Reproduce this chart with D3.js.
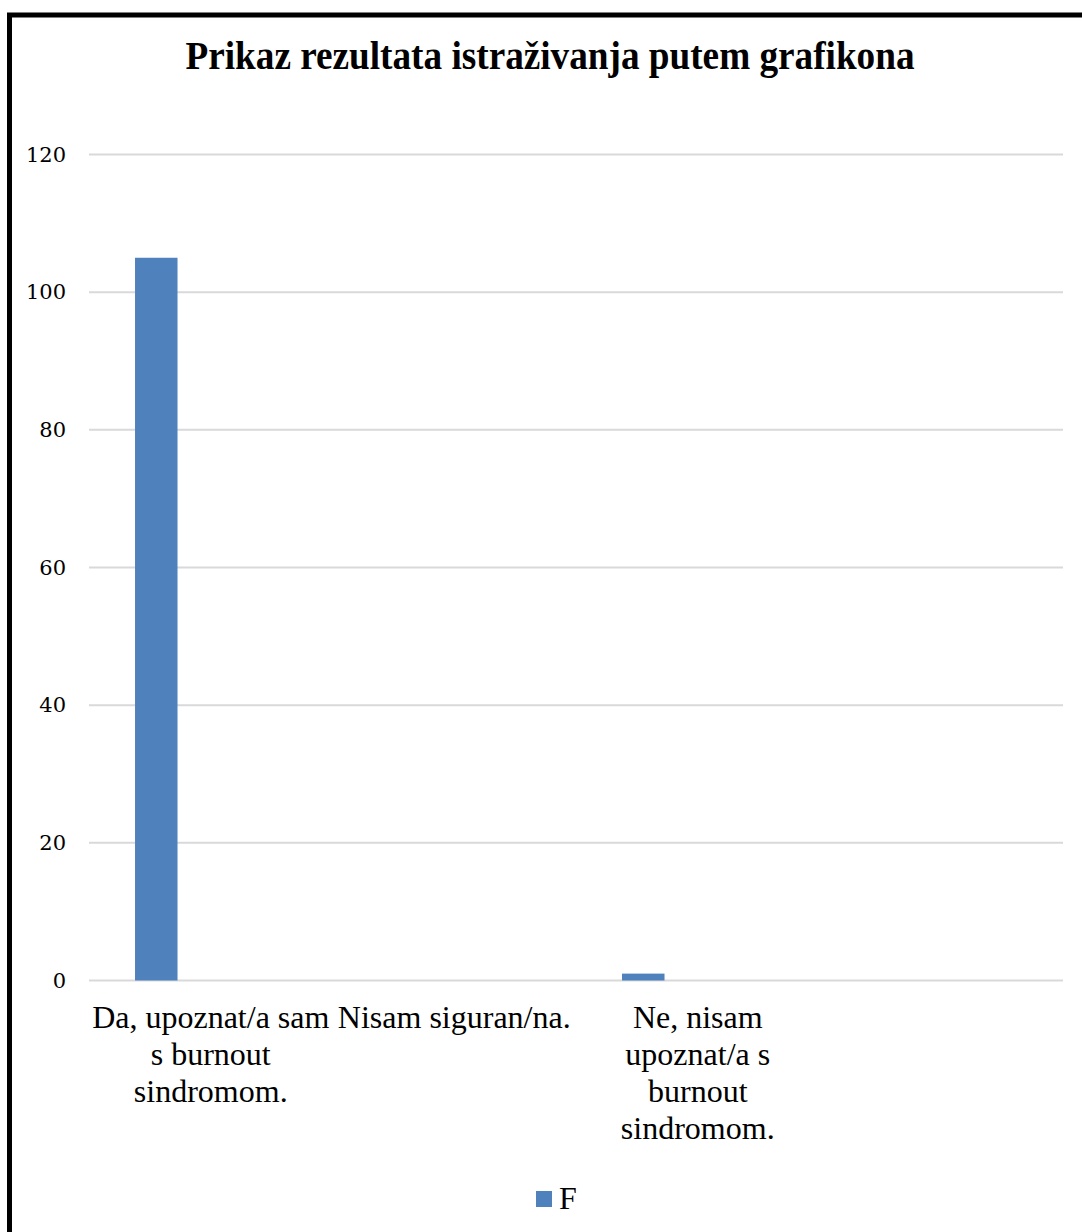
<!DOCTYPE html>
<html>
<head>
<meta charset="utf-8">
<script src="https://cdn.jsdelivr.net/npm/d3@7"></script>
<style>
  html, body { margin: 0; padding: 0; background: #fff; }
  svg { display: block; }
</style>
</head>
<body>
<div id="chart"></div>
<script>
const titleText = "Prikaz rezultata istraživanja putem grafikona";
const categories = ["c1", "c2", "c3", "c4"];
const categoryLabels = [
  ["Da, upoznat/a sam", "s burnout", "sindromom."],
  ["Nisam siguran/na."],
  ["Ne, nisam", "upoznat/a s", "burnout", "sindromom."],
  []
];
const seriesName = "F";
const seriesValues = [105, 0, 1, null];
const yTicks = [0, 20, 40, 60, 80, 100, 120];

const W = 1082, H = 1232;
const svg = d3.select("#chart").append("svg").attr("width", W).attr("height", H);

svg.append("rect").attr("x", 0).attr("y", 0).attr("width", W).attr("height", H).attr("fill", "#fff");
// outer border
svg.append("rect").attr("x", 9.5).attr("y", 15).attr("width", 1200).attr("height", 1400)
  .attr("fill", "none").attr("stroke", "#000").attr("stroke-width", 5);

// title
svg.append("text").attr("x", 550).attr("y", 69)
  .attr("text-anchor", "middle")
  .attr("font-family", "'Liberation Serif', 'Times New Roman', serif")
  .attr("font-weight", "bold").attr("font-size", 40)
  .attr("textLength", 729).attr("lengthAdjust", "spacingAndGlyphs")
  .text(titleText);

const x0 = d3.scaleBand().domain(categories).range([89, 1063]).padding(0);
const y = d3.scaleLinear().domain([0, 120]).range([980.5, 154.5]);

// gridlines
svg.append("g").selectAll("line").data(yTicks).join("line")
  .attr("x1", 89).attr("x2", 1063)
  .attr("y1", d => y(d)).attr("y2", d => y(d))
  .attr("stroke", "#d9d9d9").attr("stroke-width", 2);

// y axis labels
const yAxis = d3.axisLeft(y).tickValues(yTicks).tickSize(0).tickPadding(0);
const gy = svg.append("g").attr("transform", "translate(66,0)").call(yAxis);
gy.select(".domain").remove();
gy.selectAll("text")
  .attr("font-family", "'DejaVu Serif', serif")
  .attr("font-size", 21)
  .attr("fill", "#000");

// bars
const data = categories.map((c, i) => ({ c, v: seriesValues[i] })).filter(d => d.v != null);
const bw = x0.bandwidth();
svg.append("g").selectAll("rect").data(data).join("rect")
  .attr("x", d => x0(d.c) + bw * 0.189)
  .attr("width", bw * 0.1745)
  .attr("y", d => y(d.v))
  .attr("height", d => y(0) - y(d.v))
  .attr("fill", "#4f81bd");

// category labels
const gx = svg.append("g");
categories.forEach((c, i) => {
  const t = gx.append("text")
    .attr("text-anchor", "middle")
    .attr("font-family", "'Liberation Serif', 'Times New Roman', serif")
    .attr("font-size", 32)
    .attr("fill", "#000");
  categoryLabels[i].forEach((line, j) => {
    t.append("tspan").attr("x", x0(c) + bw / 2).attr("y", 1028 + j * 37).text(line);
  });
});

// legend
const lg = svg.append("g");
lg.append("rect").attr("x", 536).attr("y", 1191).attr("width", 16).attr("height", 16).attr("fill", "#4f81bd");
lg.append("text").attr("x", 559).attr("y", 1209)
  .attr("font-family", "'Liberation Serif', 'Times New Roman', serif")
  .attr("font-size", 32).attr("fill", "#000").text(seriesName);
</script>
</body>
</html>
